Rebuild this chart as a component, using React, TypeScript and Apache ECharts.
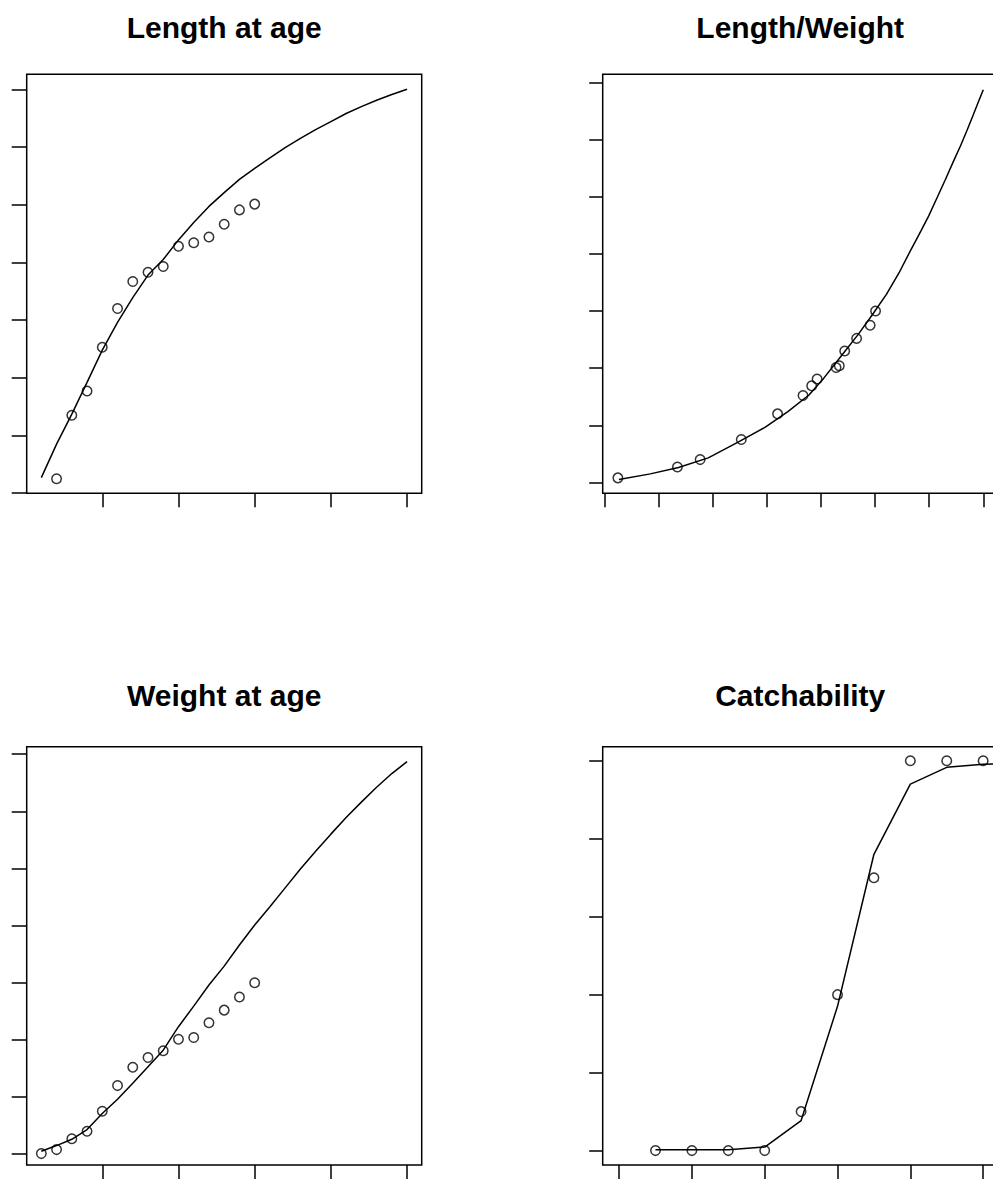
import React, { useEffect, useRef } from "react";
import * as echarts from "echarts";

// ---- Data ----
const MODEL_AGES = [1, 2, 3, 4, 5, 6, 7, 8, 9, 10, 11, 12, 13, 14, 15, 16, 17, 18, 19, 20, 21, 22, 23, 24, 25];
const MODEL_LENGTH = [12.7, 18.5, 23.7, 29.2, 34.8, 39.6, 43.9, 47.8, 50.5, 53.9, 56.9, 59.7, 62.1, 64.4, 66.3, 68.1, 69.9, 71.5, 73.0, 74.4, 75.8, 77.0, 78.1, 79.1, 80.0];
const MODEL_WEIGHT = [0.05, 0.15, 0.26, 0.43, 0.71, 0.96, 1.24, 1.53, 1.82, 2.23, 2.59, 2.96, 3.29, 3.66, 4.01, 4.33, 4.66, 4.99, 5.3, 5.6, 5.89, 6.16, 6.42, 6.66, 6.87];

const OBS_LENGTH_AGES = [2, 3, 4, 5, 6, 7, 8, 9, 10, 11, 12, 13, 14, 15];
const OBS_LENGTH = [12.5, 23.5, 27.7, 35.3, 42.0, 46.7, 48.3, 49.3, 52.8, 53.4, 54.4, 56.6, 59.1, 60.1];

const OBS_WEIGHT_AGES = [1, 2, 3, 4, 5, 6, 7, 8, 9, 10, 11, 12, 13, 14, 15];
const OBS_WEIGHT = [0.01, 0.08, 0.27, 0.4, 0.75, 1.2, 1.52, 1.69, 1.81, 2.01, 2.04, 2.3, 2.52, 2.75, 3.0];

const Q_MODEL_AGES = [3, 4, 5, 6, 7, 8, 9, 10, 11, 12, 13];
const Q_MODEL = [0.002, 0.002, 0.002, 0.009, 0.077, 0.37, 0.76, 0.94, 0.983, 0.991, 0.993];
const Q_OBS_AGES = [3, 4, 5, 6, 7, 8, 9, 10, 11, 12];
const Q_OBS = [0, 0, 0, 0, 0.1, 0.4, 0.7, 1, 1, 1];

const TITLES = ["Length at age", "Length/Weight", "Weight at age", "Catchability"];

const AGE_TICKS = [5, 10, 15, 20, 25];
const LENGTH_TICKS = [10, 20, 30, 40, 50, 60, 70, 80];
const WEIGHT_TICKS = [0, 1, 2, 3, 4, 5, 6, 7];
const Q_AGE_TICKS = [2, 4, 6, 8, 10, 12];
const Q_TICKS = [0, 0.2, 0.4, 0.6, 0.8, 1.0];

const zip = (xs: number[], ys: number[]) => xs.map((x, i) => [x, ys[i]]);

const BLACK = "#000";
const LW = 1.5;

function axis(gridIndex: number, min: number, max: number, ticks: number[], len: number) {
  return {
    type: "value",
    gridIndex,
    min,
    max,
    axisLine: { show: false, onZero: false },
    axisTick: {
      show: true,
      inside: false,
      length: len,
      lineStyle: { color: BLACK, width: LW },
      customValues: ticks,
    },
    axisLabel: { show: false, customValues: ticks },
    splitLine: { show: false },
  };
}

function lineSeries(idx: number, data: number[][]) {
  return {
    type: "line",
    xAxisIndex: idx,
    yAxisIndex: idx,
    data,
    symbol: "none",
    silent: true,
    clip: true,
    lineStyle: { color: BLACK, width: LW },
  };
}

function pointSeries(idx: number, data: number[][]) {
  return {
    type: "scatter",
    xAxisIndex: idx,
    yAxisIndex: idx,
    data,
    symbol: "circle",
    symbolSize: 9.5,
    silent: true,
    itemStyle: { color: "rgba(0,0,0,0)", borderColor: BLACK, borderWidth: 1.5 },
  };
}

export default function App() {
  const ref = useRef<HTMLDivElement>(null);
  useEffect(() => {
    if (!ref.current) return;
    const chart = echarts.init(ref.current, undefined, { renderer: "svg" });
    const gridBase = { show: true, borderColor: BLACK, borderWidth: LW, backgroundColor: "transparent", containLabel: false };
    const grids = [
      { ...gridBase, left: 26.7, top: 74.3, width: 395, height: 419 },
      { ...gridBase, left: 602.7, top: 74.3, width: 395, height: 419 },
      { ...gridBase, left: 26.7, top: 746.7, width: 395, height: 418.3 },
      { ...gridBase, left: 602.7, top: 746.7, width: 395, height: 418.3 },
    ];
    const centers = [224.2, 800.2, 224.2, 800.2];
    const ys = [27, 27, 695.6, 695.6];
    const option: any = {
      animation: false,
      backgroundColor: "#fff",
      grid: grids,
      xAxis: [
        axis(0, 0.04, 25.96, AGE_TICKS, 14),
        axis(1, 9.7, 82.66, LENGTH_TICKS, 14),
        axis(2, 0.04, 25.96, AGE_TICKS, 14),
        axis(3, 1.55, 12.4, Q_AGE_TICKS, 14),
      ],
      yAxis: [
        axis(0, 9.98, 82.6, LENGTH_TICKS, 15),
        axis(1, -0.19, 7.14, WEIGHT_TICKS, 13.5),
        axis(2, -0.19, 7.13, WEIGHT_TICKS, 15),
        axis(3, -0.037, 1.036, Q_TICKS, 13.5),
      ],
      series: [
        lineSeries(0, zip(MODEL_AGES, MODEL_LENGTH)),
        pointSeries(0, zip(OBS_LENGTH_AGES, OBS_LENGTH)),
        lineSeries(1, zip(MODEL_LENGTH, MODEL_WEIGHT)),
        pointSeries(1, zip(OBS_LENGTH, OBS_WEIGHT.slice(1))),
        lineSeries(2, zip(MODEL_AGES, MODEL_WEIGHT)),
        pointSeries(2, zip(OBS_WEIGHT_AGES, OBS_WEIGHT)),
        lineSeries(3, zip(Q_MODEL_AGES, Q_MODEL)),
        pointSeries(3, zip(Q_OBS_AGES, Q_OBS)),
      ],
      graphic: TITLES.map((t, i) => ({
        type: "text",
        x: centers[i],
        y: ys[i],
        silent: true,
        style: {
          text: t,
          fill: BLACK,
          font: 'bold 30px "Liberation Sans", Arial, sans-serif',
          textAlign: "center",
          textVerticalAlign: "middle",
        },
      })),
    };
    chart.setOption(option);
    return () => chart.dispose();
  }, []);
  return (
    <div
      style={{ position: "fixed", left: 0, top: 0, width: 993, height: 1179, overflow: "hidden", background: "#fff" }}
    >
      <div ref={ref} style={{ width: 1010, height: 1179 }} />
    </div>
  );
}
